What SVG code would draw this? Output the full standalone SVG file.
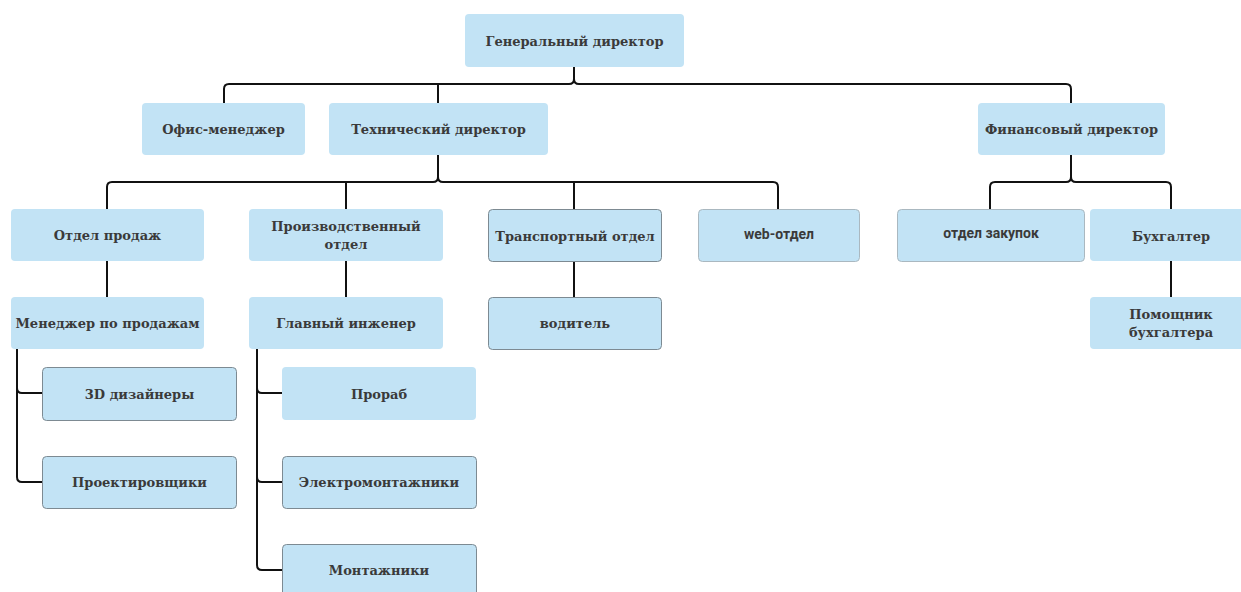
<svg xmlns="http://www.w3.org/2000/svg" width="1241" height="592" viewBox="0 0 1241 592">
<style>
.b{fill:#c2e3f5;}
.s{stroke:#7d8a92;stroke-width:1;}
.t{font-family:"DejaVu Serif","Liberation Serif",serif;font-weight:bold;font-size:13px;fill:#3a3a3a;text-anchor:middle;}
.ts{font-family:Roboto,"Liberation Sans",sans-serif;font-weight:bold;font-size:14px;fill:#3a3a3a;text-anchor:middle;}
.c{fill:none;stroke:#111;stroke-width:2;}
</style>
<rect width="1241" height="592" fill="#fff"/>
<g id="connectors">
<path class="c" d="M574,67 V79 Q574,84 569,84 H229 Q224,84 224,89 V103"/>
<path class="c" d="M574,79 Q574,84 579,84 H1066 Q1071,84 1071,89 V103"/>
<path class="c" d="M438,84 V103"/>
<path class="c" d="M438,155 V177 Q438,182 433,182 H112 Q107,182 107,187 V209"/>
<path class="c" d="M438,177 Q438,182 443,182 H773 Q778,182 778,187 V209"/>
<path class="c" d="M346,182 V209"/>
<path class="c" d="M574,182 V209"/>
<path class="c" d="M1071,155 V177 Q1071,182 1066,182 H995 Q990,182 990,187 V209"/>
<path class="c" d="M1071,177 Q1071,182 1076,182 H1166 Q1171,182 1171,187 V209"/>
<path class="c" d="M107,261 V297"/>
<path class="c" d="M346,261 V297"/>
<path class="c" d="M574,261 V297"/>
<path class="c" d="M1171,261 V297"/>
<path class="c" d="M17,349 V477 Q17,482 22,482 H42"/>
<path class="c" d="M17,388 Q17,393 22,393 H42"/>
<path class="c" d="M257,349 V565 Q257,570 262,570 H282"/>
<path class="c" d="M257,388 Q257,393 262,393 H282"/>
<path class="c" d="M257,477 Q257,482 262,482 H282"/>
</g>
<g id="n-ceo"><rect class="b" x="465" y="14" width="219" height="53" rx="4"/><text class="t" x="574.5" y="46">Генеральный директор</text></g>
<g id="n-office"><rect class="b" x="142" y="103" width="163" height="52" rx="4"/><text class="t" x="223.5" y="134">Офис-менеджер</text></g>
<g id="n-tech"><rect class="b" x="329" y="103" width="219" height="52" rx="4"/><text class="t" x="438.5" y="134">Технический директор</text></g>
<g id="n-fin"><rect class="b" x="978" y="103" width="187" height="52" rx="4"/><text class="t" x="1071.5" y="134">Финансовый директор</text></g>
<g id="n-sales"><rect class="b" x="11" y="209" width="193" height="52" rx="4"/><text class="t" x="107.5" y="240">Отдел продаж</text></g>
<g id="n-prod"><rect class="b" x="249" y="209" width="194" height="52" rx="4"/><text class="t" x="346" y="231">Производственный</text><text class="t" x="346" y="249">отдел</text></g>
<g id="n-trans"><rect class="b s" x="488.5" y="209.5" width="173" height="52" rx="4"/><text class="t" x="575" y="241">Транспортный отдел</text></g>
<g id="n-web"><rect class="b" x="698.5" y="209.5" width="161" height="52" rx="4" stroke="#aab8c0" stroke-width="1"/><text class="ts" x="779" y="239">web-отдел</text></g>
<g id="n-purch"><rect class="b" x="897.5" y="209.5" width="187" height="52" rx="4" stroke="#aab8c0" stroke-width="1"/><text class="ts" x="991" y="238">отдел закупок</text></g>
<g id="n-acc"><rect class="b" x="1090" y="209" width="155" height="52" rx="4"/><text class="t" x="1171" y="241">Бухгалтер</text></g>
<g id="n-salesmgr"><rect class="b" x="11" y="297" width="193" height="52" rx="4"/><text class="t" x="107.5" y="328">Менеджер по продажам</text></g>
<g id="n-chief"><rect class="b" x="249" y="297" width="194" height="52" rx="4"/><text class="t" x="346" y="328">Главный инженер</text></g>
<g id="n-driver"><rect class="b s" x="488.5" y="297.5" width="173" height="52" rx="4"/><text class="t" x="575" y="328">водитель</text></g>
<g id="n-accasst"><rect class="b" x="1090" y="297" width="155" height="52" rx="4"/><text class="t" x="1171" y="319">Помощник</text><text class="t" x="1171" y="337">бухгалтера</text></g>
<g id="n-3d"><rect class="b s" x="42.5" y="367.5" width="194" height="53" rx="4"/><text class="t" x="139.5" y="399">3D дизайнеры</text></g>
<g id="n-design"><rect class="b s" x="42.5" y="456.5" width="194" height="52" rx="4"/><text class="t" x="139.5" y="487">Проектировщики</text></g>
<g id="n-foreman"><rect class="b" x="282" y="367" width="194" height="53" rx="4"/><text class="t" x="379" y="399">Прораб</text></g>
<g id="n-elec"><rect class="b s" x="282.5" y="456.5" width="194" height="52" rx="4"/><text class="t" x="379" y="487">Электромонтажники</text></g>
<g id="n-mont"><rect class="b s" x="282.5" y="544.5" width="194" height="53" rx="4"/><text class="t" x="379" y="575">Монтажники</text></g>
</svg>
